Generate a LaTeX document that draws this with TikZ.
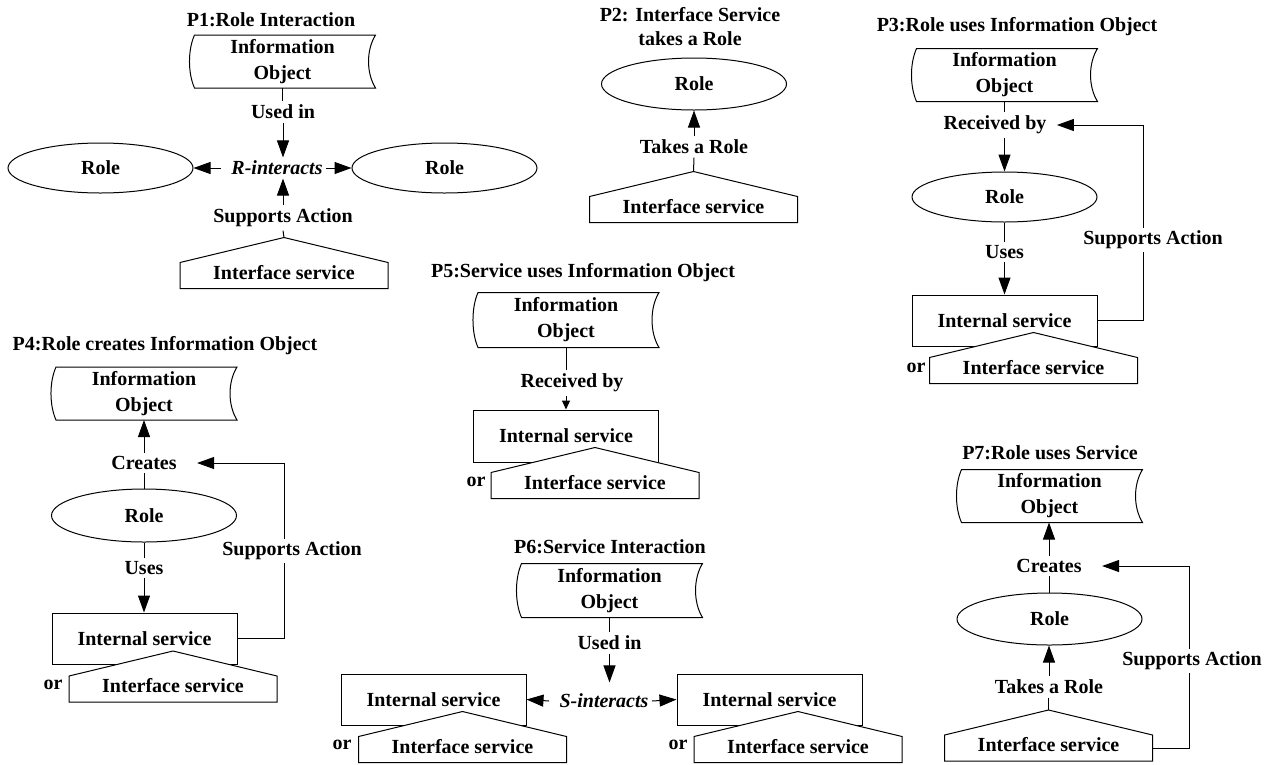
\documentclass[tikz,border=0pt]{standalone}
\usepackage{fontspec}
\setmainfont{Liberation Serif}
\usetikzlibrary{arrows.meta,calc,shapes.geometric}
\newcommand\ioframe[1]{%
  \draw ($(#1.north west)+(5,0)$) -- (#1.north east)
    .. controls ($(#1.north east)+(-9.3,15)$) and ($(#1.south east)+(-9.3,-15)$) .. (#1.south east)
    -- ($(#1.south west)+(5,0)$)
    .. controls ($(#1.south west)+(-1.7,-15)$) and ($(#1.north west)+(-1.7,15)$) .. cycle;}
\newcommand\servicehouse[3]{%
  \coordinate (#1) at (#2,#3);
  \coordinate (#1-peak) at ($(#1)+(0,-38)$);
  \coordinate (#1-e) at ($(#1)+(104,0)$);
  \draw[fill=white] ($(#1)+(-104,13)$) -- ($(#1)+(-104,-13)$) -- (#1-peak)
    -- ($(#1)+(104,-13)$) -- ($(#1)+(104,13)$) -- cycle;
  \node (#1-t) at ($(#1)+(0,-3)$) {Interface service};}
\begin{document}
\begin{tikzpicture}[x=1pt,y=-1pt,line width=1pt,
  every node/.style={font=\fontsize{20}{26}\selectfont\bfseries,inner sep=3pt},
  ttl/.style={align=center,font=\fontsize{20}{24}\selectfont\bfseries},
  ital/.style={font=\fontsize{20}{26}\selectfont\bfseries\itshape},
  io/.style={minimum width=185pt,minimum height=52pt,align=center,inner sep=0pt},
  role/.style={ellipse,draw,minimum width=185pt,minimum height=50pt,inner sep=0pt},
  svc/.style={draw,fill=white,minimum width=185pt,minimum height=51pt,inner sep=0pt},
  lbl/.style={fill=white},
  arr/.style={-{Triangle[length=17pt,width=12pt]}},
  sarr/.style={-{Triangle[length=9pt,width=8pt]}}]
\useasboundingbox (0,0) rectangle (1273,764);

% ---------------- P1
\node[ttl] (p1t) at (271,20) {P1:Role Interaction};
\node[io] (p1io) at (282.5,61.5) {Information\\Object};
\ioframe{p1io}
\node (p1used) at (283,112) {Used in};
\node[ital] (p1ri) at (277,168) {R-interacts};
\node[role] (p1rl) at (100.5,168) {Role};
\node[role] (p1rr) at (444.5,168) {Role};
\node (p1sup) at (283,218) {Supports Action};
\servicehouse{p1h}{284}{275.5}
\draw (p1io.south) -- (p1io.south |- p1used.north);
\draw[arr] (p1used.south) -- (p1used.south |- p1ri.north);
\draw[arr] ([xshift=-7pt]p1ri.west) -- (p1rl.east);
\draw[arr] (p1ri.east) -- (p1rr.west);
\draw[arr] (p1sup.north) -- (p1sup.north |- p1ri.south);
\draw (p1h-peak) -- (p1sup.south);

% ---------------- P2
\node[ttl] (p2t) at (690,26.5) {P2: Interface Service\\takes a Role};
\node[role,minimum height=52pt] (p2r) at (694,84) {Role};
\node (p2take) at (694,147) {Takes a Role};
\servicehouse{p2h}{693.5}{209.5}
\draw (p2h-peak) -- (p2take.south);
\draw[arr] (p2take.north) -- (p2r.south);

% ---------------- P3
\node[ttl] (p3t) at (1017,27) {P3:Role uses Information Object};
\node[io] (p3io) at (1004.5,75) {Information\\Object};
\ioframe{p3io}
\node[inner xsep=10pt] (p3rec) at (995,125) {Received by};
\node[role] (p3r) at (1004.5,197) {Role};
\node (p3uses) at (1004.5,252) {Uses};
\node[svc] (p3s) at (1004.5,320.5) {Internal service};
\servicehouse{p3h}{1033.5}{370.5}
\node (p3or) at (916,368) {or};
\draw (p3io.south) -- (p3io.south |- p3rec.north);
\draw[arr] (p3io.south |- p3rec.south) -- (p3r.north);
\draw (p3r.south) -- (p3uses.north);
\draw[arr] (p3uses.south) -- (p3s.north);
\coordinate (p3k) at (1143,125);
\draw[arr] (p3s.east) -| (p3k) -- (p3rec.east);
\node[lbl] (p3sup) at (1153,240) {Supports Action};

% ---------------- P4
\node[ttl] (p4t) at (165,346) {P4:Role creates Information Object};
\node[io] (p4io) at (144,393.5) {Information\\Object};
\ioframe{p4io}
\node[inner xsep=20pt] (p4cr) at (144,463) {Creates};
\node[role,minimum height=53pt] (p4r) at (144,515.5) {Role};
\node (p4uses) at (144,568) {Uses};
\node[svc] (p4s) at (144.5,638.5) {Internal service};
\servicehouse{p4h}{173}{689}
\node (p4or) at (53,685) {or};
\draw[arr] (p4cr.north) -- (p4cr.north |- p4io.south);
\draw (p4r.north) -- (p4cr.south);
\draw (p4r.south) -- (p4uses.north);
\draw[arr] (p4uses.south) -- (p4uses.south |- p4s.north);
\coordinate (p4k) at (284,463);
\draw[arr] (p4s.east) -| (p4k) -- (p4cr.east);
\node[lbl] (p4sup) at (292,551) {Supports Action};

% ---------------- P5
\node[ttl] (p5t) at (583,273) {P5:Service uses Information Object};
\node[io,minimum height=54pt] (p5io) at (566,320) {Information\\Object};
\ioframe{p5io}
\node (p5rec) at (572,383) {Received by};
\node[svc,minimum height=52pt] (p5s) at (566,436) {Internal service};
\servicehouse{p5h}{595}{485.5}
\node (p5or) at (476,482) {or};
\draw (p5io.south) -- (p5io.south |- p5rec.north);
\draw[sarr] (p5io.south |- p5rec.south) -- (p5s.north);

% ---------------- P6
\node[ttl] (p6t) at (610,547) {P6:Service Interaction};
\node[io,minimum height=53pt] (p6io) at (609.5,590.5) {Information\\Object};
\ioframe{p6io}
\node (p6used) at (609.5,643) {Used in};
\node[ital] (p6si) at (604,701) {S-interacts};
\node[svc] (p6sl) at (433.5,699.5) {Internal service};
\servicehouse{p6hl}{462.5}{749.5}
\node (p6orl) at (342,745) {or};
\node[svc] (p6sr) at (769.5,699.5) {Internal service};
\servicehouse{p6hr}{798}{749.5}
\node (p6orr) at (678,745) {or};
\draw (p6io.south) -- (p6io.south |- p6used.north);
\draw[arr] (p6used.south) -- ([yshift=8pt]p6used.south |- p6si.north);
\draw[arr] ([xshift=-7pt]p6si.west) -- (p6sl.east);
\draw[arr] (p6si.east) -- (p6sr.west);

% ---------------- P7
\node[ttl] (p7t) at (1050,453) {P7:Role uses Service};
\node[io] (p7io) at (1049.5,496) {Information\\Object};
\ioframe{p7io}
\node[inner xsep=20pt] (p7cr) at (1049,566) {Creates};
\node[role,minimum height=52pt] (p7r) at (1049.5,619) {Role};
\node (p7take) at (1049,687) {Takes a Role};
\servicehouse{p7h}{1048.5}{748}
\draw[arr] (p7cr.north) -- (p7cr.north |- p7io.south);
\draw (p7r.north) -- (p7r.north |- p7cr.south);
\draw[arr] (p7take.north) -- (p7take.north |- p7r.south);
\draw (p7h-peak) -- (p7h-peak |- p7take.south);
\coordinate (p7k) at (1189,566);
\draw[arr] (p7h-e) -| (p7k) -- (p7cr.east);
\node[lbl] (p7sup) at (1192,661) {Supports Action};
\end{tikzpicture}
\end{document}
